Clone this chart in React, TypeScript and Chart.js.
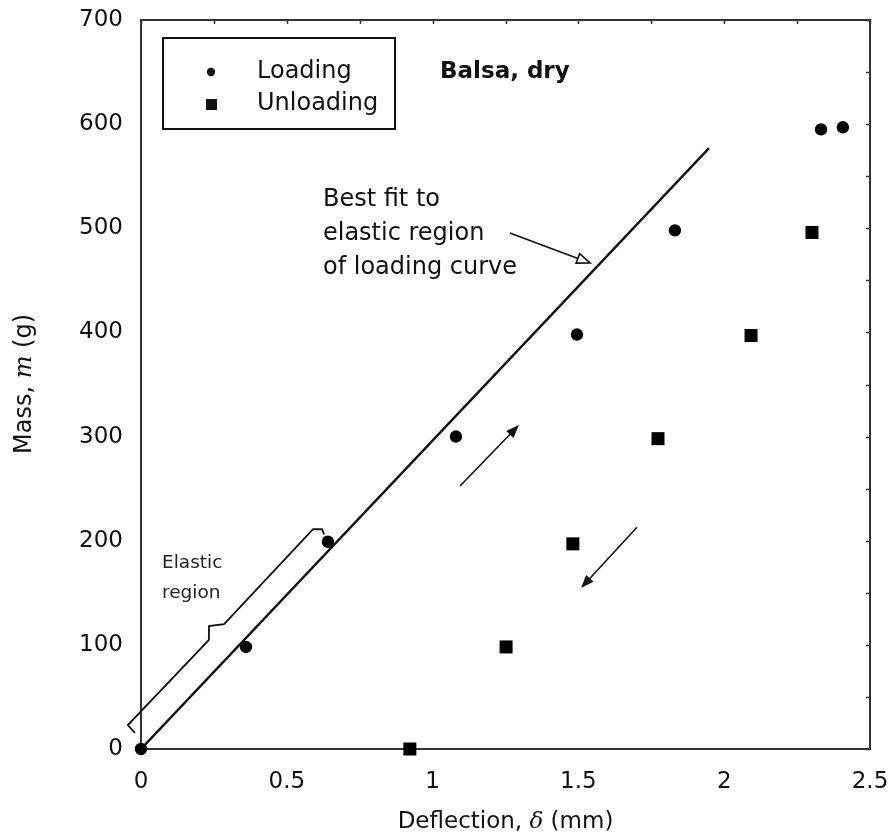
import React, { useEffect, useRef } from "react";
import { Chart, registerables } from "chart.js";

Chart.register(...registerables);

// ---- data ----
const loadingX = [0, 0.36, 0.641, 1.08, 1.495, 1.831, 2.332, 2.407];
const loadingY = [0, 98, 199, 300, 398, 498, 595, 597];
const unloadingX = [0.922, 1.252, 1.481, 1.773, 2.092, 2.301];
const unloadingY = [0, 98, 197, 298, 397, 496];
const fitX = [0, 1.948];
const fitY = [0, 577];
const xTickValues = [0, 0.5, 1, 1.5, 2, 2.5];
const yTickValues = [0, 100, 200, 300, 400, 500, 600, 700];
const seriesNames = ["Loading", "Unloading"];
const panelLabel = "Balsa, dry";
const fitNote = ["Best fit to", "elastic region", "of loading curve"];
const elasticNote = ["Elastic", "region"];

// annotation geometry in data units (x: mm, y: g)
const braceX = [-0.021, -0.045, 0.233, 0.233, 0.285, 0.59, 0.621, 0.628];
const braceY = [15.4, 23, 104.7, 118, 120, 211, 211, 206];
const upArrow = [1.094, 252.5, 1.296, 311];
const downArrow = [1.701, 213, 1.509, 154.6];
const fitPointer = [1.265, 495.5, 1.54, 466.7];
const fitNoteAnchor = [0.624, 527.2, 494.5, 461.9];
const elasticNoteAnchor = [0.072, 178.6, 149.8];

const FONT = "'DejaVu Sans', sans-serif";

function drawArrow(ctx: CanvasRenderingContext2D, x1: number, y1: number, x2: number, y2: number, hollow: boolean) {
  const ang = Math.atan2(y2 - y1, x2 - x1);
  const len = 13;
  const half = 5;
  const bx = x2 - len * Math.cos(ang);
  const by = y2 - len * Math.sin(ang);
  ctx.beginPath();
  ctx.moveTo(x1, y1);
  ctx.lineTo(hollow ? bx : x2 - 4 * Math.cos(ang), hollow ? by : y2 - 4 * Math.sin(ang));
  ctx.stroke();
  const px = -Math.sin(ang);
  const py = Math.cos(ang);
  ctx.beginPath();
  ctx.moveTo(x2, y2);
  ctx.lineTo(bx + px * half, by + py * half);
  ctx.lineTo(bx - px * half, by - py * half);
  ctx.closePath();
  if (hollow) {
    ctx.fillStyle = "#fff";
    ctx.fill();
    ctx.stroke();
  } else {
    ctx.fillStyle = "#111";
    ctx.fill();
  }
}

const decorPlugin = {
  id: "decor",
  beforeDatasetsDraw(chart: any) {
    const ctx: CanvasRenderingContext2D = chart.ctx;
    const { left, right, top, bottom } = chart.chartArea;
    const xs = chart.scales.x;
    const ys = chart.scales.y;
    const X = (v: number) => xs.getPixelForValue(v);
    const Y = (v: number) => ys.getPixelForValue(v);
    ctx.save();
    // frame
    ctx.strokeStyle = "#333";
    ctx.lineWidth = 2;
    ctx.strokeRect(left, top, right - left, bottom - top);
    // inward mirror ticks on right and top
    ctx.lineWidth = 1.5;
    ctx.beginPath();
    for (let v = ys.min; v <= ys.max + 1e-6; v += 50) {
      const p = Math.round(Y(v)) + 0.5;
      ctx.moveTo(right, p);
      ctx.lineTo(right - 4, p);
    }
    for (let v = xs.min; v <= xs.max + 1e-6; v += 0.25) {
      const p = Math.round(X(v)) + 0.5;
      ctx.moveTo(p, top);
      ctx.lineTo(p, top + 4);
    }
    ctx.stroke();
    ctx.restore();
  },
  afterDraw(chart: any) {
    const ctx: CanvasRenderingContext2D = chart.ctx;
    const { left, right, top } = chart.chartArea;
    const xs = chart.scales.x;
    const ys = chart.scales.y;
    const X = (v: number) => xs.getPixelForValue(v);
    const Y = (v: number) => ys.getPixelForValue(v);
    ctx.save();

    // legend box
    const lx = left + 22, ly = top + 18, lw = 232, lh = 91;
    ctx.strokeStyle = "#111";
    ctx.lineWidth = 2;
    ctx.strokeRect(lx, ly, lw, lh);
    ctx.fillStyle = "#111";
    ctx.beginPath();
    ctx.arc(lx + 48, ly + 34, 4.2, 0, Math.PI * 2);
    ctx.fill();
    ctx.fillRect(lx + 43, ly + 61, 11, 11);
    ctx.font = `24px ${FONT}`;
    ctx.textBaseline = "middle";
    ctx.textAlign = "left";
    ctx.fillText(seriesNames[0], lx + 94, ly + 34);
    ctx.fillText(seriesNames[1], lx + 94, ly + 66);

    // panel label
    ctx.font = `bold 23px ${FONT}`;
    ctx.fillText(panelLabel, left + 299, top + 52);

    // best fit note
    ctx.font = `24px ${FONT}`;
    fitNote.forEach((t, i) => ctx.fillText(t, X(fitNoteAnchor[0]), Y(fitNoteAnchor[1 + i])));

    // elastic note
    ctx.font = `18.5px ${FONT}`;
    ctx.fillStyle = "#222";
    elasticNote.forEach((t, i) => ctx.fillText(t, X(elasticNoteAnchor[0]), Y(elasticNoteAnchor[1 + i])));

    // brace
    ctx.strokeStyle = "#111";
    ctx.lineWidth = 1.8;
    ctx.beginPath();
    braceX.forEach((bx, i) => {
      const px = X(bx), py = Y(braceY[i]);
      if (i === 0) ctx.moveTo(px, py); else ctx.lineTo(px, py);
    });
    ctx.stroke();

    // arrows
    ctx.lineWidth = 1.6;
    drawArrow(ctx, X(upArrow[0]), Y(upArrow[1]), X(upArrow[2]), Y(upArrow[3]), false);
    drawArrow(ctx, X(downArrow[0]), Y(downArrow[1]), X(downArrow[2]), Y(downArrow[3]), false);
    drawArrow(ctx, X(fitPointer[0]), Y(fitPointer[1]), X(fitPointer[2]), Y(fitPointer[3]), true);

    // axis titles with italic symbols
    ctx.fillStyle = "#111";
    ctx.textBaseline = "middle";
    const drawParts = (parts: [string, string][], cx: number, cy: number) => {
      let total = 0;
      const widths = parts.map(([t, f]) => { ctx.font = f; const w = ctx.measureText(t).width; total += w; return w; });
      let x = cx - total / 2;
      parts.forEach(([t, f], i) => { ctx.font = f; ctx.textAlign = "left"; ctx.fillText(t, x, cy); x += widths[i]; });
    };
    drawParts([
      ["Deflection, ", `23px ${FONT}`],
      ["δ", `italic 23px 'DejaVu Serif', serif`],
      [" (mm)", `23px ${FONT}`],
    ], (left + right) / 2, 822);
    ctx.save();
    ctx.translate(25, 384);
    ctx.rotate(-Math.PI / 2);
    drawParts([
      ["Mass, ", `24px ${FONT}`],
      ["m", `italic 24px 'DejaVu Serif', serif`],
      [" (g)", `24px ${FONT}`],
    ], 0, 0);
    ctx.restore();

    ctx.restore();
  },
};

export default function App() {
  const ref = useRef<HTMLCanvasElement | null>(null);
  useEffect(() => {
    if (!ref.current) return;
    const chart = new Chart(ref.current, {
      type: "scatter",
      data: {
        datasets: [
          {
            label: seriesNames[0],
            data: loadingX.map((x, i) => ({ x, y: loadingY[i] })),
            pointStyle: "circle",
            pointRadius: 6.2,
            backgroundColor: "#000",
            borderColor: "#000",
            borderWidth: 0,
            clip: false,
          } as any,
          {
            label: seriesNames[1],
            data: unloadingX.map((x, i) => ({ x, y: unloadingY[i] })),
            pointStyle: "rect",
            pointRadius: 9.2,
            backgroundColor: "#000",
            borderColor: "#000",
            borderWidth: 0,
            clip: false,
          } as any,
          {
            type: "line",
            label: "fit",
            data: fitX.map((x, i) => ({ x, y: fitY[i] })),
            borderColor: "#111",
            borderWidth: 2.4,
            pointRadius: 0,
            showLine: true,
            fill: false,
          } as any,
        ],
      },
      options: {
        animation: false,
        responsive: false,
        devicePixelRatio: 1,
        layout: { padding: { top: 20, right: 23, left: 0, bottom: 0 } },
        plugins: { legend: { display: false }, tooltip: { enabled: false } },
        scales: {
          x: {
            type: "linear",
            min: 0,
            max: 2.5,
            afterBuildTicks: (s: any) => { s.ticks = xTickValues.map((v) => ({ value: v })); },
            afterFit: (s: any) => { s.height = 88; s.paddingLeft = 0; s.paddingRight = 0; },
            grid: { display: false, drawTicks: false },
            border: { display: false },
            ticks: {
              color: "#111",
              font: { family: "'DejaVu Sans', sans-serif", size: 23 },
              padding: 19,
              maxRotation: 0,
              autoSkip: false,
              callback: (v: any) => String(v),
            },
          },
          y: {
            type: "linear",
            min: 0,
            max: 700,
            afterBuildTicks: (s: any) => { s.ticks = yTickValues.map((v) => ({ value: v })); },
            afterFit: (s: any) => { s.width = 141; s.paddingTop = 0; s.paddingBottom = 0; },
            grid: { display: false, drawTicks: false },
            border: { display: false },
            ticks: {
              color: "#111",
              font: { family: "'DejaVu Sans', sans-serif", size: 23 },
              padding: 18,
              autoSkip: false,
              callback: (v: any) => String(v),
            },
          },
        },
      },
      plugins: [decorPlugin],
    });
    return () => chart.destroy();
  }, []);
  return (
    <div style={{ position: "absolute", left: 0, top: 0, width: 893, height: 837, background: "#fff" }}>
      <canvas ref={ref} width={893} height={837} />
    </div>
  );
}
